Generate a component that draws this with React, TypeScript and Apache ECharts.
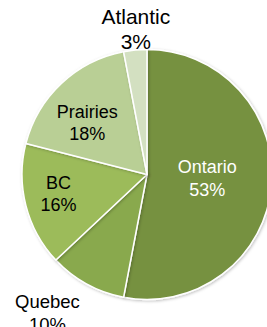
import React, { useEffect, useRef } from "react";
import * as echarts from "echarts";

const regions = ["Ontario", "Quebec", "BC", "Prairies", "Atlantic"];
const shares = [53, 10, 16, 18, 3];
const colors = ["#76913F", "#89A94E", "#9CBB5A", "#B9CF95", "#D3E0C1"];
const textColors = ["#FFFFFF", "#000000", "#000000", "#000000", "#000000"];
const fontSizes = [18, 18.5, 18, 18, 21];
const lineHeights = [22.5, 22.5, 22.5, 22.5, 25];
// label nudges (dx, dy) relative to ECharts' inside position
const labelShift: [number, number][] = [
  [-5, -2],
  [-68, 81],
  [-25, 3],
  [-15, -4],
  [-5, -80],
];

export default function App() {
  const ref = useRef<HTMLDivElement>(null);
  useEffect(() => {
    if (!ref.current) return;
    const chart = echarts.init(ref.current, null, { renderer: "svg" });
    chart.setOption({
      animation: false,
      backgroundColor: "#ffffff",
      series: [
        {
          type: "pie",
          center: [147, 174.5],
          radius: 125,
          startAngle: 90,
          clockwise: true,
          avoidLabelOverlap: false,
          itemStyle: {
            borderColor: "#ffffff",
            borderWidth: 1.5,
            shadowBlur: 3,
            shadowColor: "rgba(0,0,0,0.25)",
            shadowOffsetX: 1,
            shadowOffsetY: 1,
          },
          label: {
            show: true,
            position: "inside",
            formatter: (p: any) => `${p.name}\n${p.value}%`,
            fontFamily: "Liberation Sans, Arial, sans-serif",
            align: "center",
          },
          labelLine: { show: false },
          labelLayout: (p: any) => ({
            dx: labelShift[p.dataIndex][0],
            dy: labelShift[p.dataIndex][1],
          }),
          emphasis: { disabled: true },
          data: regions.map((name, i) => ({
            name,
            value: shares[i],
            itemStyle: { color: colors[i] },
            label: {
              color: textColors[i],
              fontSize: fontSizes[i],
              lineHeight: lineHeights[i],
            },
          })),
        },
      ],
    });
    return () => chart.dispose();
  }, []);
  return (
    <div
      ref={ref}
      style={{ position: "absolute", left: 0, top: 0, width: 267, height: 327 }}
    />
  );
}
